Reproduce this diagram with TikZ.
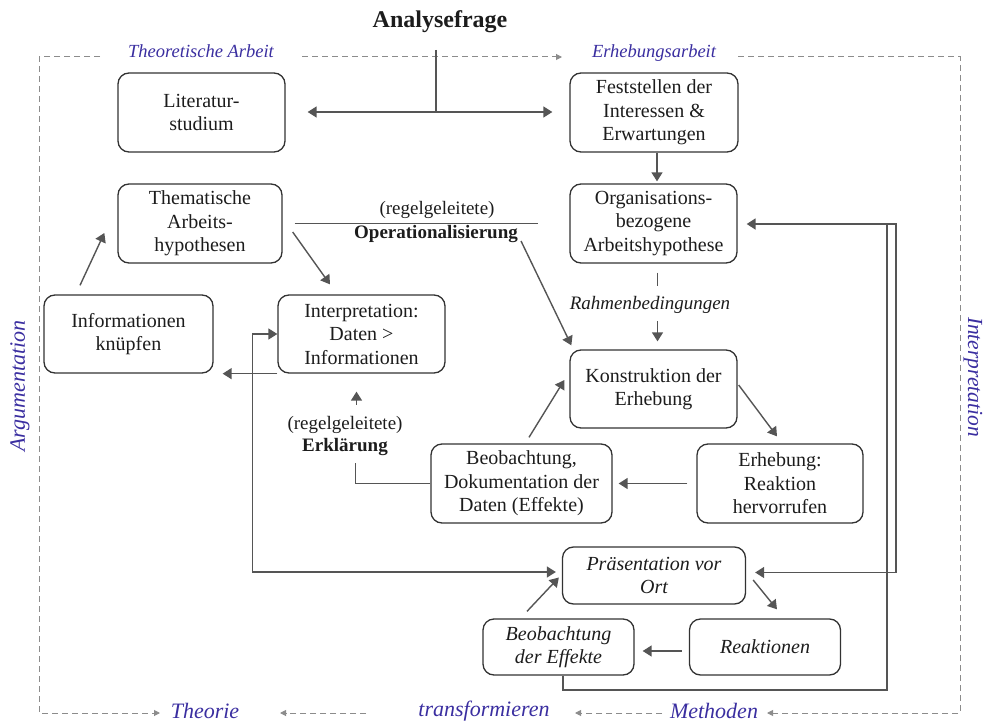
\documentclass[tikz,border=0pt]{standalone}
\usepackage{fontspec}
\setmainfont{Liberation Serif}
\usetikzlibrary{arrows.meta}
\definecolor{labelblue}{RGB}{58,46,160}
\definecolor{linegray}{RGB}{85,85,85}
\definecolor{framegray}{RGB}{140,140,140}
\definecolor{boxedge}{RGB}{50,50,50}
\definecolor{inktext}{RGB}{28,28,28}
\begin{document}
\begin{tikzpicture}[x=1pt,y=-1pt,
  box/.style={draw=boxedge, line width=1.3pt, rounded corners=11pt, align=center,
    text=inktext, inner sep=0pt, font=\fontsize{20}{23.5}\selectfont},
  itbox/.style={box, font=\fontsize{20}{23.5}\selectfont\itshape},
  conn/.style={draw=linegray, line width=1.4pt},
  arr/.style={conn, -{Triangle[length=9pt,width=11pt]}},
  dblarr/.style={conn, {Triangle[length=9pt,width=11pt]}-{Triangle[length=9pt,width=11pt]}},
  frame/.style={draw=framegray, line width=1pt, dash pattern=on 6pt off 4pt},
  framearr/.style={frame, -{Triangle[length=6pt,width=6pt]}},
  sidelabel/.style={text=labelblue, inner sep=1pt, font=\fontsize{22}{24}\selectfont\itshape},
  toplabel/.style={text=labelblue, inner sep=1pt, font=\fontsize{18.5}{20}\selectfont\itshape},
  plain/.style={text=inktext, inner sep=1pt, font=\fontsize{19}{22}\selectfont},
  strong/.style={text=inktext, inner sep=1pt, font=\fontsize{19}{22}\selectfont\bfseries}
]
\useasboundingbox (0,0) rectangle (984,722);

% title
\node[text=inktext, font=\fontsize{24}{28}\selectfont\bfseries] (title) at (440,22) {Analysefrage};

% frame labels
\node[toplabel] (theoarb) at (201,51) {Theoretische Arbeit};
\node[toplabel] (erhebarb) at (654,53) {Erhebungsarbeit};
\node[sidelabel, rotate=90] (argu) at (20,386) {Argumentation};
\node[sidelabel, rotate=-90, font=\fontsize{21.5}{24}\selectfont\itshape] (interpl) at (973,377) {Interpretation};
\node[sidelabel] (theorie) at (205,711) {Theorie};
\node[sidelabel] (transf) at (484,711) {transformieren};
\node[sidelabel] (methoden) at (714,711) {Methoden};

% dashed frame
\draw[framearr] (100,57) -- (39,57) -- (39,713) -- (160,713);
\draw[framearr] (302,57) -- (562,57);
\draw[framearr] (738,57) -- (960,57) -- (960,713) -- (767,713);
\draw[framearr] (366,713) -- (280,713);
\draw[framearr] (662,713) -- (575,713);

% boxes
\node[box, minimum width=167pt, minimum height=79pt] (lit) at (201.5,112.5) {Literatur-\\studium};
\node[box, minimum width=168pt, minimum height=79pt] (fest) at (654,112.5) {Feststellen der\\Interessen \&\\Erwartungen};
\node[box, minimum width=164pt, minimum height=79pt] (them) at (200,223.5) {Thematische\\Arbeits-\\hypothesen};
\node[box, minimum width=167pt, minimum height=79pt] (org) at (653.5,223.5) {Organisations-\\bezogene\\Arbeitshypothese};
\node[box, minimum width=169pt, minimum height=78pt] (info) at (128.5,334) {Informationen\\knüpfen};
\node[box, minimum width=167pt, minimum height=78pt] (interp) at (361.5,334) {Interpretation:\\Daten >\\Informationen};
\node[box, minimum width=167pt, minimum height=78pt] (konst) at (653.5,389) {Konstruktion der\\Erhebung};
\node[box, minimum width=181pt, minimum height=79pt] (beobdok) at (521.5,483.5) {Beobachtung,\\Dokumentation der\\Daten (Effekte)};
\node[box, minimum width=166pt, minimum height=79pt] (erheb) at (780,483.5) {Erhebung:\\Reaktion\\hervorrufen};
\node[itbox, minimum width=183pt, minimum height=57pt] (praes) at (654,575.5) {Präsentation vor\\Ort};
\node[itbox, minimum width=151pt, minimum height=56pt] (beobeff) at (558.5,647) {Beobachtung\\der Effekte};
\node[itbox, minimum width=151pt, minimum height=56pt] (reak) at (765,647) {Reaktionen};

% in-between labels
\node[plain] (opre) at (437,210) {(regelgeleitete)};
\node[strong] (opname) at (436,234) {Operationalisierung};
\node[text=inktext, inner sep=1pt, font=\fontsize{19}{20}\selectfont\itshape] (rahmen) at (650,305) {Rahmenbedingungen};
\node[plain] (erre) at (345,425) {(regelgeleitete)};
\node[strong] (erkl) at (345,447) {Erklärung};

% analysis question splits to both sides
\coordinate (qtop) at (436,50);
\coordinate (split) at (436,112);
\draw[conn] (qtop) -- (split);
\draw[arr, shorten >=22pt] (split) -- (split -| lit.east);
\draw[arr, shorten >=17pt] (split) -- (split -| fest.west);

% theoretical side
\draw[arr] ([shift={(-48.5,-9)}]info.north) -- ([shift={(-13,9.5)}]them.west);
\draw[arr] ([shift={(10,8.5)}]them.east) -- ([shift={(-31.5,-10)}]interp.north);
\draw[arr] (interp.south west) -- ([xshift=9pt]info.east |- interp.south west);
\draw[dblarr] (interp.west) -- ++(-25,0) |- ([shift={(-6,-3.5)}]praes.west);

% operationalisation
\draw[conn] ([xshift=12pt]them.east) -- ([xshift=-31pt]org.west);
\draw[arr] ([shift={(2,7)}]opname.east) -- ([shift={(2,-4)}]konst.north west);

% survey side
\draw[arr, shorten >=2pt] ([xshift=3pt]fest.south) -- ([xshift=3pt]fest.south |- org.north);
\draw[conn] ([shift={(4,9)}]org.south) -- ([shift={(4,22)}]org.south);
\draw[arr] ([shift={(4,-28)}]konst.north) -- ([shift={(4,-8)}]konst.north);
\draw[arr] ([shift={(1,-4)}]konst.east) -- ([shift={(-3,-7)}]erheb.north);
\draw[arr, shorten <=9pt, shorten >=6pt] (erheb.west) -- (beobdok.east);
\draw[arr] ([shift={(7.5,-6)}]beobdok.north) -- ([shift={(-5,-9)}]konst.west);

% explanation
\draw[conn] (beobdok.west) -- ++(-75,0) -- ++(0,-21);
\draw[arr] ([shift={(-5,31)}]interp.south) -- ([shift={(-5,18)}]interp.south);

% presentation cycle
\draw[arr] ([shift={(-31.5,-7)}]beobeff.north) -- ([shift={(-3,2)}]praes.west);
\draw[arr] ([shift={(7,4.5)}]praes.east) -- ([shift={(12,-9)}]reak.north);
\draw[arr] ([shift={(-7,4)}]reak.west) -- ([shift={(8,4)}]beobeff.east);

% feedback loop
\coordinate (fbbr) at (887,690);
\coordinate (fbtr) at (887,224);
\draw[arr, line width=1.8pt] ([xshift=4.5pt]beobeff.south) |- (fbbr) -- (fbtr) -- ([shift={(9,0.5)}]org.east);
\draw[arr] (fbtr) -- ++(9,0) |- ([shift={(9,-3)}]praes.east);
\end{tikzpicture}
\end{document}
